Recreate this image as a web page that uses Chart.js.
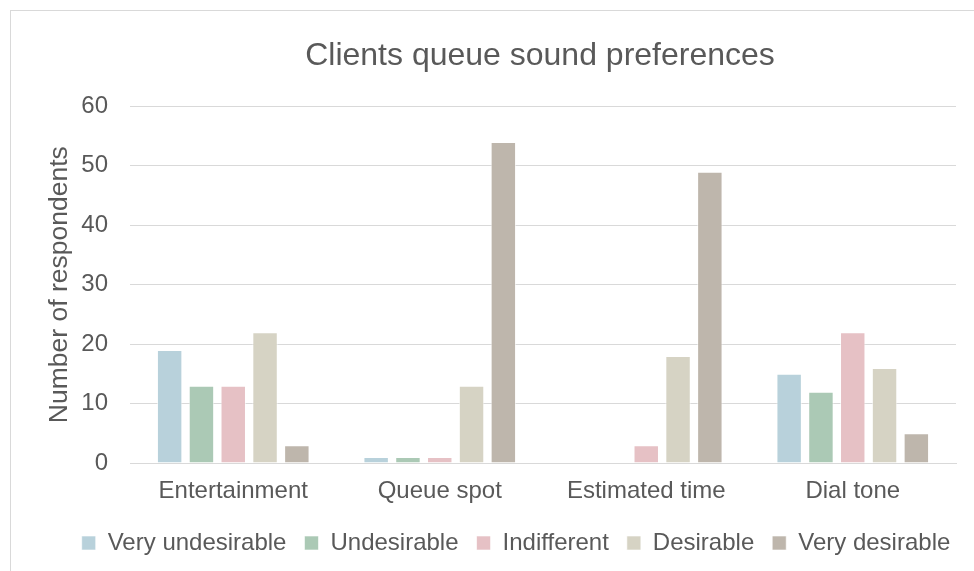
<!DOCTYPE html>
<html>
<head>
<meta charset="utf-8">
<script src="https://cdn.jsdelivr.net/npm/chart.js@4"></script>
<style>
  html, body { margin: 0; padding: 0; background: #fff; overflow: hidden; }
  #wrap { width: 974px; height: 571px; position: relative; }
</style>
</head>
<body>
<div id="wrap"><canvas id="chart" width="974" height="571"></canvas></div>
<script>
// categories and series
const categories = ['Entertainment', 'Queue spot', 'Estimated time', 'Dial tone'];
const seriesNames = ['Very undesirable', 'Undesirable', 'Indifferent', 'Desirable', 'Very desirable'];
const veryUndesirable = [19, 1, 0, 15];
const undesirable = [13, 1, 0, 12];
const indifferent = [13, 1, 3, 22];
const desirable = [22, 13, 18, 16];
const veryDesirable = [3, 54, 49, 5];
const yTicks = [0, 10, 20, 30, 40, 50, 60];

const colours = ['#B8D1DB', '#ABC9B5', '#E6C1C5', '#D6D3C4', '#BEB6AC'];
const textColor = '#595959';
const gridColor = '#D9D9D9';
const fontFamily = '"Liberation Sans", Arial, sans-serif';

// the outer chart frame, it runs off the right and bottom edges
const framePlugin = {
  id: 'frame',
  beforeDraw(chart) {
    const ctx = chart.ctx;
    ctx.save();
    ctx.strokeStyle = '#D9D9D9';
    ctx.lineWidth = 1;
    ctx.strokeRect(10.5, 10.5, 1000, 700);
    ctx.restore();
  },
  // nudge title and legend, excel centres them differently
  afterLayout(chart) {
    if (chart.legend) {
      chart.legend.left += 18;
      chart.legend.right += 18;
      chart.legend.top += 4;
      chart.legend.bottom += 4;
    }
    if (chart.titleBlock) {
      chart.titleBlock.left += 42;
      chart.titleBlock.right += 42;
    }
  }
};

const allSeries = [veryUndesirable, undesirable, indifferent, desirable, veryDesirable];

new Chart(document.getElementById('chart'), {
  type: 'bar',
  data: {
    labels: categories,
    datasets: allSeries.map((values, i) => ({
      label: seriesNames[i],
      data: values,
      backgroundColor: colours[i],
      borderColor: 'rgba(255,255,255,0.6)',
      borderWidth: 1,
      categoryPercentage: 0.77,
      barPercentage: 0.8
    }))
  },
  options: {
    responsive: false,
    animation: false,
    layout: { padding: { top: 10, left: 40, right: 18, bottom: 10 } },
    plugins: {
      title: {
        display: true,
        text: 'Clients queue sound preferences',
        color: textColor,
        font: { family: fontFamily, size: 32, weight: 'normal' },
        padding: { top: 27, bottom: 31 }
      },
      legend: {
        position: 'bottom',
        labels: {
          color: textColor,
          font: { family: fontFamily, size: 24 },
          boxWidth: 14,
          boxHeight: 14,
          padding: 18
        }
      },
      tooltip: { enabled: false }
    },
    scales: {
      x: {
        grid: { display: false, drawTicks: false },
        border: { color: gridColor },
        ticks: {
          color: textColor,
          font: { family: fontFamily, size: 24 },
          padding: 14
        },
        afterFit(scale) {
          scale.height = 46;
        }
      },
      y: {
        min: 0,
        max: 60,
        afterBuildTicks(scale) {
          scale.ticks = yTicks.map(v => ({ value: v }));
        },
        afterFit(scale) {
          scale.width = 90;
        },
        grid: { color: gridColor, drawTicks: false },
        border: { display: false },
        ticks: {
          color: textColor,
          font: { family: fontFamily, size: 24 },
          padding: 22
        },
        title: {
          display: true,
          text: 'Number of respondents',
          color: textColor,
          font: { family: fontFamily, size: 26.5 },
          padding: { top: 4, bottom: 8 }
        }
      }
    }
  },
  plugins: [framePlugin]
});
</script>
</body>
</html>
